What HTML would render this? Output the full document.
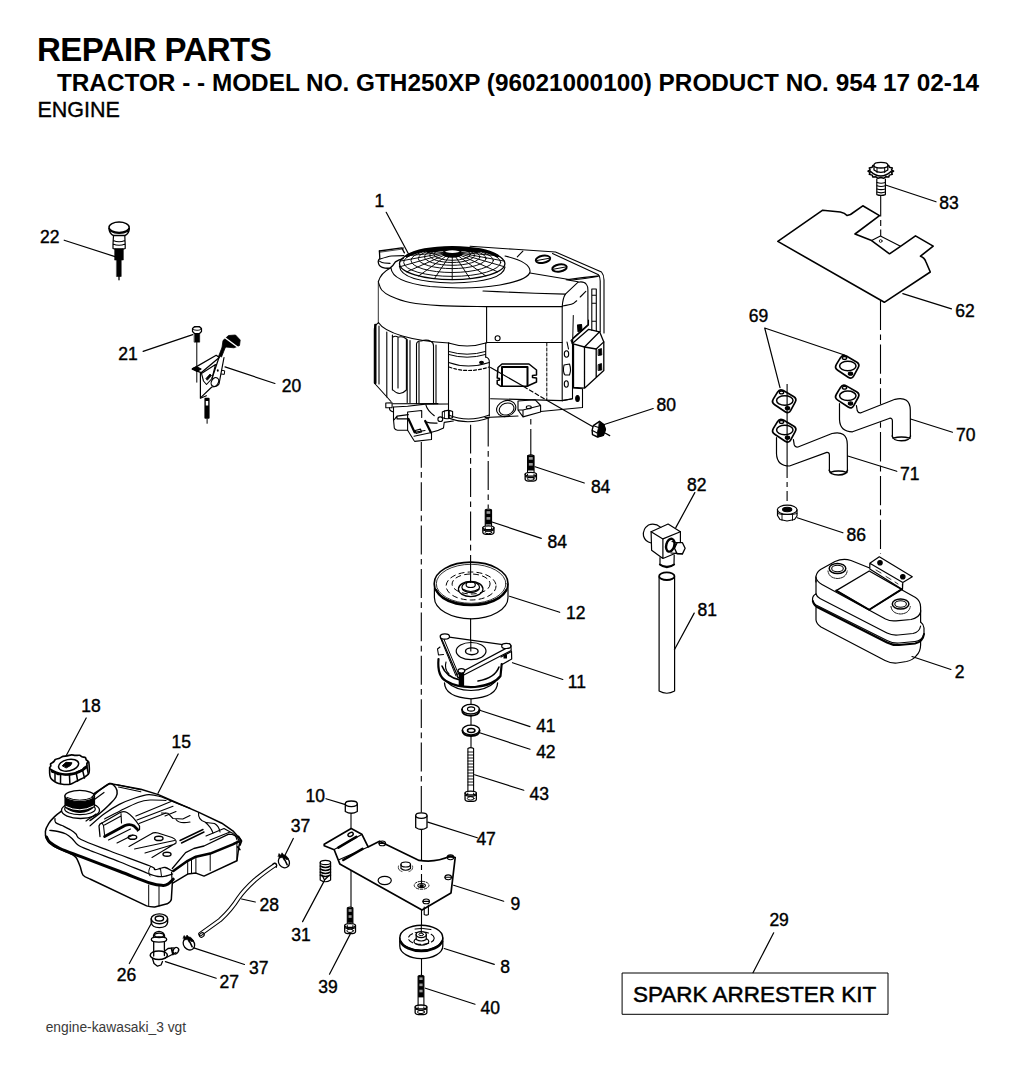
<!DOCTYPE html>
<html><head><meta charset="utf-8">
<style>
html,body{margin:0;padding:0;background:#fff;}
body{width:1024px;height:1069px;overflow:hidden;position:relative;font-family:"Liberation Sans",sans-serif;}
svg{position:absolute;left:0;top:0;}
.t{position:absolute;white-space:nowrap;color:#000;}
</style></head><body>
<svg width="1024" height="1069" viewBox="0 0 1024 1069">
<g font-family="Liberation Sans, sans-serif" fill="#000">
<text x="37.05" y="61" font-size="33" font-weight="bold" letter-spacing="-0.56">REPAIR PARTS</text>
<text x="56.95" y="91.3" font-size="24.33" font-weight="bold">TRACTOR - - MODEL NO. GTH250XP (96021000100) PRODUCT NO. 954 17 02-14</text>
<text x="37.4" y="117.3" font-size="21.53" stroke="#000" stroke-width="0.35">ENGINE</text>
<text x="45.7" y="1031.6" font-size="13.8" fill="#3a3a3a">engine-kawasaki_3 vgt</text>
<text x="632.9" y="1002" font-size="22.5" stroke="#000" stroke-width="0.5">SPARK ARRESTER KIT</text>
</g>
<g font-family="Liberation Sans, sans-serif" font-size="17.5" fill="#000" stroke="#000" stroke-width="0.4">
<text x="374.42" y="207.45">1</text>
<text x="40.02" y="243.15">22</text>
<text x="118.3" y="360.25">21</text>
<text x="281.8" y="391.65">20</text>
<text x="939.2" y="209.45">83</text>
<text x="955.25" y="317.45">62</text>
<text x="748.75" y="322.15">69</text>
<text x="656.6" y="410.85">80</text>
<text x="956.02" y="440.75">70</text>
<text x="900.0" y="479.85">71</text>
<text x="590.88" y="493.45">84</text>
<text x="686.98" y="490.85">82</text>
<text x="547.47" y="548.45">84</text>
<text x="846.45" y="541.45">86</text>
<text x="566.1" y="618.55">12</text>
<text x="697.47" y="616.45">81</text>
<text x="954.72" y="677.65">2</text>
<text x="567.78" y="688.45">11</text>
<text x="81.28" y="712.25">18</text>
<text x="536.15" y="732.15">41</text>
<text x="171.48" y="748.15">15</text>
<text x="536.15" y="757.55">42</text>
<text x="529.58" y="800.25">43</text>
<text x="305.42" y="801.95">10</text>
<text x="290.73" y="832.35">37</text>
<text x="476.4" y="844.75">47</text>
<text x="510.38" y="910.05">9</text>
<text x="259.58" y="910.55">28</text>
<text x="769.4" y="925.55">29</text>
<text x="291.23" y="941.15">31</text>
<text x="249.08" y="974.05">37</text>
<text x="500.18" y="973.35">8</text>
<text x="116.78" y="980.85">26</text>
<text x="219.6" y="987.75">27</text>
<text x="318.18" y="992.65">39</text>
<text x="480.48" y="1013.95">40</text>
</g>
<g fill="none" stroke="#000" stroke-width="1.1" stroke-linejoin="round" stroke-linecap="round">
<path stroke-width="1.2" d="M386.2,212.3L408.8,254.5 M64.2,240.2L115,256.6 M143.1,351.4L192.7,334.6 M274.9,383.5L225,366.9 M936,201.8L886.2,185.2 M951.5,308.9L902.8,293.6 M764.7,328L844.4,355 M764.7,328L780,387.6 M653.2,408.5L603.5,424.7 M952.5,432.2L910.6,419 M896.8,471.3L847.8,456 M584.3,483L535.1,466.7 M694.8,492.6L675.8,527.6 M541.3,538.4L492,522 M842.9,532.8L797.2,517.8 M559.7,612.3L509.5,596.3 M694.2,613.1L674.4,649.7 M950.9,669.5L912,656.5 M562.8,679.5L512.5,662.7 M86.2,718L65.9,756.3 M530,726.6L479.7,710.2 M178.2,754L158,793.3 M530,749.2L479.7,732.8 M523.8,790.2L474.6,774.8 M326,798.7L345.5,804.6 M293.3,838.5L284.6,856 M477.3,837.8L427.8,822.1 M503.7,901.2L453.6,885.3 M255.3,902L241.6,899 M773.7,932.8L753,972.7 M302.6,921.6L324.4,880.6 M244.5,964.5L193.75,947.9 M494.3,964.4L444.2,948.5 M129.3,963.5L151.8,922.5 M216.2,978.2L165.4,961.6 M329.5,974.2L350.1,934.4 M475,1004.2L425.5,988.2"/>
<rect x="622.5" y="973" width="265.5" height="41.3" stroke-width="1"/>

<g stroke-width="1.1" stroke="#000" stroke-linecap="butt">
<path d="M421.3,442 L421.3,812.5" stroke-dasharray="28.9 4.4 5.7 4.4" stroke-dashoffset="3.2"/>
<path d="M470.6,424.7 L470.6,562" stroke-dasharray="28.9 4.4 5.7 4.4"/>
<path d="M470.6,562 L470.6,583 M470.6,618.5 L470.6,652 M471,698.5 L471,704.5 M471,715.5 L471,725.5 M471,736 L471,747"/>
<path d="M488.2,417.7 L488.2,508.5" stroke-dasharray="28.9 4.4 5.7 4.4"/>
<path d="M530.8,417.5 L530.8,455.5" stroke-dasharray="27 4.5 5.6 4.5" stroke-dashoffset="30"/>
<path d="M880.5,300.7 L880.5,404.5" stroke-dasharray="29.3 4.4 5.7 4.4"/>
<path d="M880.5,422.3 L880.5,554" stroke-dasharray="29.3 4.4 5.7 4.4" stroke-dashoffset="34"/>
<path d="M880.7,195.5 L880.7,216.5 M880.7,220 L880.7,226 M880.7,229.5 L880.7,236"/>
<path d="M787.1,384 L787.1,478 M787.1,482 L787.1,487 M787.1,491 L787.1,501"/>
<path d="M351,814 L351,829 M351,870 L351,907"/>
<path d="M421.5,830 L421.5,861 M421.5,865 L421.5,870 M421.5,874 L421.5,884"/>
<path d="M421.5,910 L421.5,925 M421.5,958.6 L421.5,976"/>
</g>

<g id="engine" stroke-width="1.1">
<!-- back top edge -->
<path d="M403,247.5 L403,249 M470,246.3 L515,249.3 L555.5,252 L601.5,272 Q604,275 604,280 L604,333"/>
<path d="M552.5,253.5 L598.5,274.8 Q600.2,277 600.2,281 L600.2,331.7"/>
<!-- tab top-left -->
<path d="M379.4,251 L401.7,247.8 L404.4,252.9" stroke-width="1.3"/>
<path d="M380,252.2 L401.5,249.2" stroke-width="0.7"/>
<path d="M379.4,251 L379.8,258.4 Q378,260 378.25,262 Q378.6,266 382.2,267.3 Q386,268.6 390,268.1 Q393,266 395.4,261.9 Q399,259.6 403.3,258.7" stroke-width="1.3"/>
<path d="M380.2,259.1 Q388,256.3 391.5,256 L404,255.6" stroke-width="1.1"/>
<path d="M379.4,261.1 Q382,262.8 384.5,263 L390,263.4" stroke-width="1.1"/>
<!-- top surface ring ellipse -->
<path d="M391,268 Q392,282 430,286.5 Q470,290 500,285 Q528,280 530,272 Q531,262 505,256"/>
<!-- screen outer and inner -->
<ellipse cx="452.2" cy="263.6" rx="52.7" ry="16.1" stroke-width="1.3"/>
<path d="M399.4,266 Q401,282 452.2,283 Q503,282 505,267" stroke-width="1.2"/>
<!-- screen rings -->
<g stroke-width="0.95">
<ellipse cx="452.2" cy="262.35" rx="48.51" ry="14.05"/>
<ellipse cx="452.2" cy="260.40" rx="41.20" ry="12.10"/>
<ellipse cx="452.2" cy="258.45" rx="33.88" ry="10.15"/>
<ellipse cx="452.2" cy="256.80" rx="27.69" ry="8.50"/>
<ellipse cx="452.2" cy="255.40" rx="22.44" ry="7.10"/>
<ellipse cx="452.2" cy="254.30" rx="18.32" ry="6.00"/>
<path d="M452.3,251.6 L498.38,255.84 M452.3,251.6 L504.25,261.08 M452.3,251.6 L503.97,266.62 M452.3,251.6 L497.56,271.80 M452.3,251.6 L485.79,276.01 M452.3,251.6 L470.05,278.75 M452.3,251.6 L452.20,279.70 M452.3,251.6 L434.35,278.75 M452.3,251.6 L418.61,276.01 M452.3,251.6 L406.84,271.80 M452.3,251.6 L400.43,266.62 M452.3,251.6 L400.15,261.08 M452.3,251.6 L406.02,255.84 "/>
</g>
<path d="M407,256 Q420,248 452.3,247.6 Q485,248 497.5,256" stroke-width="3.2"/>
<path d="M428,251 Q440,249 452.3,249 Q465,249 477,251" stroke-width="4"/>
<ellipse cx="452.3" cy="254.5" rx="10" ry="3.2" fill="#000" stroke="none"/>
<ellipse cx="452.3" cy="251.6" rx="8.4" ry="2.1" fill="#fff" stroke="#000" stroke-width="1.6"/>
<!-- bosses -->
<ellipse cx="543" cy="259.3" rx="7.3" ry="3.6" transform="rotate(-10 543 259.3)" stroke-width="2"/>
<path d="M537,260.5 L549,258.3" stroke-width="1"/>
<ellipse cx="559.5" cy="268" rx="7.3" ry="3.6" transform="rotate(-10 559.5 268)" stroke-width="2"/>
<path d="M553.5,269.2 L565.5,267" stroke-width="1"/>
<path d="M517.3,256.8 L522.9,251.1"/>
<!-- top surface right boundary -->
<path d="M530,273 L572,280 Q585,278.5 597.5,276.5"/>
<!-- housing left side + front -->
<path d="M390,268.3 Q381,273 378.4,281.5"/>
<path d="M378.3,281.5 L378.3,323" stroke-width="0.8"/>
<path d="M378.50,282.50 C379.03,283.75 379.73,287.77 381.70,290.00 C383.67,292.23 385.58,293.82 390.30,295.90 C395.02,297.98 401.72,300.88 410.00,302.50 C418.28,304.12 427.17,304.92 440.00,305.60 C452.83,306.28 479.17,306.43 487.00,306.60  L562.2,306.6"/>
<path d="M483,291 L497,291.6 L535,293.3 L565.4,294.1"/>
<path d="M562.2,306.6 Q562.8,298 565.4,294.1 L578.1,282.2 Q584,281 586.5,284.5 Q588,286.5 587.9,290 L587.9,324.6 L573.2,338"/>
<path d="M562.5,306 Q570,305 573.2,303.6 L576.7,300.8 M580.2,297 L585.8,291.3" stroke-width="1.1"/>
<path d="M562.2,306.6 L562.2,400.6"/>
<path d="M566.1,279.7 L578.1,281.8 M566.1,279.7 Q582,277.5 599.1,275.9"/>
<path d="M573.3,315.5 L572.6,345" stroke-width="1"/>
<path d="M577.5,325 L581.5,324.5 L582,330.5 L578,331.5 Z" fill="#000"/>
<!-- fins on right side -->
<path d="M591.8,289 L591.8,330.3 M596.3,289 L596.3,331 M591.8,289 L596.3,289 M591.8,295.2 L596.3,295.2 M591.8,303.2 L596.3,303.2 M591.8,321.2 L596.3,321.2" stroke-width="1.1"/>
<!-- front panel -->
<path d="M486.6,306.6 L486.6,343 M486.6,342.5 L562.2,342.5"/>
<circle cx="497.6" cy="338.3" r="2.5"/>
<path d="M546.8,343 L546.8,400" stroke-dasharray="3 2" stroke-width="1"/>
<!-- rectifier -->
<path d="M498,367.5 L502,364 L529,364 L536.5,370 L536.5,375 L532.5,375.5 L532.5,377.5 L536.5,378 L536.5,382 L527,386.2 L500.5,386.2 L497.2,384 L497.2,380.5 L499.5,380 L499.5,378.5 L497.2,378 Z" stroke-width="1.5"/>
<path d="M502,367 L527.5,367 L527.5,386 M502,367 L502,386" stroke-width="2"/>
<!-- right small panel holes -->
<path d="M572.5,340 L572.5,398.7 L562.2,400.6"/>
<ellipse cx="566.5" cy="354" rx="2.2" ry="3.2"/>
<path d="M564,365 Q562.5,372 565,375 L569.5,375 Q571.5,370 569.5,364 Z"/>
<ellipse cx="566.3" cy="384" rx="2" ry="3.2"/>
<path d="M567,342 L568.5,349"/>
<!-- regulator box -->
<path d="M572.3,343.6 L588.7,329.3 L599.6,331.8 L584.5,347 Z" stroke-width="1.3"/>
<path d="M599.6,331.8 L603.8,341.9 L596.2,349 L584.5,347" stroke-width="1.3"/>
<path d="M573.5,344.4 L573.5,387.3 L584.5,388.2 L603.8,370.5 L603.8,341.9 M584.5,347 L584.5,388.2 M596.2,349 L596.2,377.5" stroke-width="1.3"/>
<path d="M598.5,349.5 L601.5,348.5 L601.8,355 L598.5,355.5 Z M598.5,364.5 L601.5,363.5 L601.8,370 L598.5,370.5 Z" fill="#000" stroke-width="0.8"/>
<path d="M571,340.5 L588.5,325 L588.5,320 M572.3,343.6 L571,340.5" stroke-width="1.1"/>
<!-- lower right bracket -->
<path d="M572.5,388 L582.5,388.7 L582.5,407.5 L540.6,411.5 M518,416 L485,417.5"/>
<ellipse cx="577.5" cy="398.5" rx="1.8" ry="3" fill="#000"/>
<!-- bottom edge of front panel -->
<path d="M490.6,398.7 L562.2,400.6 L572.5,398.7"/>
<!-- oil cap -->
<ellipse cx="506.2" cy="408.5" rx="9.8" ry="7.8" transform="rotate(-20 506.2 408.5)"/>
<ellipse cx="506.6" cy="409" rx="7.5" ry="5.8" transform="rotate(-20 506.6 409)"/>
<!-- mount foot right -->
<path d="M518,401 L535,399.7 L540.6,405.5 L540.6,412 L523,416.9 L518,410 Z M523,416.9 L523,410 L540.6,405.5 M518,410 L523,410"/>
<ellipse cx="528.8" cy="407.3" rx="2.5" ry="1.5"/>
<!-- PTO cylinder -->
<path d="M448.5,343 Q467,349 485.7,343"/>
<path d="M448.5,343 L448.5,418 M485.7,343 L485.7,357"/>
<path d="M448.7,351.5 Q467,357 485.5,351.5 M448.7,354.5 Q467,360 485.5,354.5" stroke-width="1"/>
<path d="M485.5,357 Q489.5,358 489.3,362 L489.3,416"/>
<path d="M448.7,362.5 Q468,369.5 489.2,362.5"/>
<path d="M449,367 Q468,374 489,367" stroke-width="1.2" stroke-dasharray="3 2"/>
<path d="M448.5,415 Q468,423 489.3,415 M449,418.3 Q468,425.5 489.3,417.8"/>
<ellipse cx="481.5" cy="362.4" rx="1.9" ry="1.1" fill="#000"/>
<!-- left fins & cylinder -->
<path d="M378.4,323 Q374.5,325 374.3,330 L374.3,383 L391,401.5"/>
<path d="M375.3,325 L375.3,383" stroke-width="2.4"/>
<path d="M379,326 L379,384 M386.8,332 L386.8,397 M392.4,335 L392.4,390"/>
<path d="M393,337 Q395,335.5 398,337 L398,388 M393,390 Q399.5,397 406.4,390 L406.4,339 Q403,336 399,337"/>
<path d="M407.2,339.5 L407.2,402.5 M410,340.5 L410,402.5"/>
<path d="M416.5,403.6 L416.5,344 Q417,340.5 421,341 Q427,339 431,341.5 Q433.5,342.5 433.5,346 L433.5,403.6"/>
<path d="M419,342 L419,403 M436,345 L436,403"/>
<!-- base left -->
<path d="M378.4,322.5 C385,333 412,341 449,343"/>
<path d="M392.8,403.8 L437.9,403.6"/>
<path d="M393.5,407 L407.6,406.3 L425.2,404.1 L448.5,404"/>
<path d="M385.8,403 L392.1,402.7 L392.1,407.7 L385.8,407.7 Z"/>
<path d="M389.5,407.7 Q389,411 393.5,412"/>
<path d="M393.5,407 L393.5,419.6 L394.3,428 Q395,430 397.5,430.2 L407.6,430.2 L414,440.5 L414.8,441.4 L431.5,439.5 L431.5,432.3 Q438,431 443.5,428 L444.2,422.4 L453.3,421"/>
<path d="M394.3,419.6 L397,416.1 L408.3,414.6 M397,416.1 L397,418.9 L408.3,418.9"/>
<path d="M407.6,412 L421.7,410.5 L421.7,417.5 M407.6,412 L407.6,430.2"/>
<path d="M408.5,419 L414.6,432.3 M425.2,421 L430.8,432.3" stroke-width="2.2"/>
<path d="M414,436.2 L431.5,432.5 M414.6,432.3 L425,430.5"/>
<path d="M415.2,430.5 L420.5,429.2 L421.5,432 L416,433.3 Z" stroke-width="1.2"/>
<path d="M425.9,404.8 Q427,410 434.3,415.7 M425.2,421.7 Q431,423.5 437.1,423.1"/>
<path d="M442.3,412 L442.3,417.5 Q447,420 452.6,417.5 L452.6,411.5 M442.3,412 Q447,409 452.6,411.5"/>
<ellipse cx="440.3" cy="419.2" rx="2.4" ry="2.3"/>
<path d="M444.5,411 L444.5,418.5 M449.5,410.5 L449.5,418.5" stroke-width="0.8"/>
</g>

<g id="p22">
<ellipse cx="119.1" cy="227.3" rx="10.1" ry="5.2" stroke-width="1.5"/>
<path d="M109,228.5 Q109.5,234 113.5,235.5 L124.8,235.5 Q129,234 129.3,228.5" stroke-width="1.5"/>
<path d="M110,231 Q119,236 128.5,231" stroke-width="1.2"/>
<path d="M113.5,235.5 L113.2,240.5 Q119,243 125,240.5 L124.8,235.5 M113.2,240.5 L113,244 Q119,246.5 125.2,244 L125,240.5 M113,244 L113,248.5 Q119,251 125.2,248.5 L125.2,244" stroke-width="1.2"/>
<rect x="114.9" y="248.5" width="8.4" height="11.5" fill="#000" stroke-width="0.6"/>
<rect x="116.8" y="259.5" width="4.4" height="17" fill="#000" stroke-width="0.6"/>
<path d="M119,276.5 L119,279.8" stroke-width="1.3"/>
</g>
<g id="p21">
<path d="M192.5,328.5 L194.5,326.6 L199.5,326.6 L201.5,328.5 L201.5,331.5 L199.5,333.5 L194.5,333.5 L192.5,331.5 Z" stroke-width="1.2"/>
<ellipse cx="197" cy="328.5" rx="4.3" ry="1.8" stroke-width="0.9"/>
<rect x="194.4" y="333.5" width="5.3" height="8.7" fill="#000" stroke-width="0.5"/>
<path d="M196.8,342 L196.8,382.2" stroke-width="1"/>
</g>
<g id="p20" stroke-width="1.2">
<path d="M192.2,369.1 L216.2,355.3 L219.3,357.6 L201.1,372.7 Z" stroke-width="1.3"/>
<path d="M192.5,368.5 L196.5,366.8 L201,369 L197,371.5 Z" fill="#000"/>
<path d="M200.4,372.7 L200.4,398.2 L206.4,395.8"/>
<path d="M219.3,356.5 L212,378.5 M224,357.5 L219,384 Q217,387 211.8,387 L200.7,397.6"/>
<path d="M201.5,373.5 L215.5,364.5 L212,378.5 L206.5,384.5 L203.5,381 Z" stroke-width="1.1"/>
<path d="M206,378.5 L210,374 L211.5,375.5 L207.5,380 Z" fill="#000" stroke-width="0.8"/>
<ellipse cx="214.9" cy="382" rx="3.4" ry="4.7" transform="rotate(30 214.9 382)"/>
<path d="M221.6,370.3 L224.7,370.8 L224.3,374.4 L221.2,374" stroke-width="1"/>
<path d="M218.5,356.5 L222,347.5 L225.5,347 L221.5,357" fill="#000" stroke-width="0.8"/>
<path d="M222,347.5 L223,340.5 L228.5,335.5 L235.5,335 L240.2,340 L239.5,345.5 L234,347.8 L225.5,347 Z" fill="#000" stroke-width="0.8"/>
<path d="M224,337 L237.5,347" stroke="#fff" stroke-width="1.5"/>
<ellipse cx="217.8" cy="370.5" rx="0.9" ry="1.3" fill="#000" stroke="none"/>
<rect x="204.4" y="397.8" width="5.2" height="21" rx="1" fill="#000" stroke="none"/>
<rect x="205.8" y="401" width="2.4" height="4.5" fill="#fff" stroke="none"/>
<path d="M207.1,419 L207.1,423.3" stroke-width="1"/>
</g>

<g id="p83">
<path d="M893.60,171.20 L891.53,172.60 L892.33,174.37 L889.41,175.11 L888.78,176.91 L885.58,176.86 L883.65,178.32 L880.80,177.48 L877.95,178.32 L876.02,176.86 L872.82,176.91 L872.19,175.11 L869.27,174.37 L870.07,172.60 L868.00,171.20 L870.07,169.80 L869.27,168.03 L872.19,167.29 L872.82,165.49 L876.02,165.54 L877.95,164.08 L880.80,164.92 L883.65,164.08 L885.58,165.54 L888.78,165.49 L889.41,167.29 L892.33,168.03 L891.53,169.80 L893.60,171.20 Z" stroke-width="1.5" fill="#fff"/>
<path d="M870,171 Q880.8,181 891.6,171" stroke-width="1.6"/>
<path d="M874,165.5 L874,170 Q880.8,174.8 887.8,170 L887.8,165.5" stroke-width="1.3" fill="#fff"/>
<ellipse cx="880.9" cy="165.2" rx="7" ry="2.8" stroke-width="1.3" fill="#fff"/>
<path d="M877,167.8 L877,172.5 M884.7,167.8 L884.7,172.5" stroke-width="1"/>
<path d="M876.8,179 L876.8,194.6 Q881,196.3 885.4,194.6 L885.4,179" stroke-width="1.2"/>
<path d="M877,182.5 Q881,184 885.3,182.5 M877,185.7 Q881,187.2 885.3,185.7 M877,188.9 Q881,190.4 885.3,188.9 M877,192.1 Q881,193.6 885.3,192.1" stroke-width="1.1"/>
</g>
<g id="p62" stroke-width="1.6">
<path d="M777.8,241.4 L822.7,210.2 L840.3,212 Q845,213 847,215.5 L850.5,214.5 L862.8,205.8 L879.5,215.6 L855,234 L871.6,240.6 L889.5,253.8 L900.5,246.3 L915.5,235.9 L933.2,246.1 L920.5,256.2 Q924.5,257.5 926,262 L930.3,272 L884.3,302.3 Z"/>
<path d="M871.6,240.6 L880.4,236 L900.5,246.3" stroke-width="1.1"/>
<circle cx="880.7" cy="241" r="1.4" stroke-width="0.8"/>
</g>
<g id="p86">
<path d="M777.5,510 L777.5,515.5 L780,519.5 L787,521 L794.5,519.5 L797,516 L797,510" stroke-width="1.2"/>
<ellipse cx="787.2" cy="509.8" rx="9.8" ry="4.6" stroke-width="1.2"/>
<ellipse cx="787.2" cy="509.5" rx="4.6" ry="2.2" fill="#000"/>
<path d="M782,514.5 L782,520.3 M792.5,514.5 L792.5,520.3 M777.5,513.5 L782,514.5 L792.5,514.5 L797,513.5" stroke-width="0.9"/>
</g>

<g id="gaskets">
<path d="M846.35,356.08 L856.55,361.92 Q860.20,364.00 858.18,367.68 L853.72,375.82 Q851.70,379.50 848.19,377.19 L837.71,370.31 Q834.20,368.00 836.38,364.41 L840.52,357.59 Q842.70,354.00 846.35,356.08 Z" stroke-width="1.7"/>
<ellipse cx="847.8" cy="366" rx="8.2" ry="4.7" stroke-width="1.5"/>
<ellipse cx="844.5" cy="357.9" rx="2.2" ry="1.4" stroke-width="1.3"/>
<ellipse cx="850.5" cy="373.7" rx="2.2" ry="1.6" fill="#000"/>
<path d="M846.35,385.88 L856.55,391.72 Q860.20,393.80 858.18,397.48 L853.72,405.62 Q851.70,409.30 848.19,406.99 L837.71,400.11 Q834.20,397.80 836.38,394.21 L840.52,387.39 Q842.70,383.80 846.35,385.88 Z" stroke-width="1.7"/>
<ellipse cx="847.8" cy="395.8" rx="8.2" ry="4.7" stroke-width="1.5"/>
<ellipse cx="844.5" cy="387.7" rx="2.2" ry="1.4" stroke-width="1.3"/>
<ellipse cx="850.5" cy="403.5" rx="2.2" ry="1.6" fill="#000"/>
<path d="M783.35,390.58 L793.55,396.42 Q797.20,398.50 795.18,402.18 L790.72,410.32 Q788.70,414.00 785.19,411.69 L774.71,404.81 Q771.20,402.50 773.38,398.91 L777.52,392.09 Q779.70,388.50 783.35,390.58 Z" stroke-width="1.7"/>
<ellipse cx="784.8" cy="400.5" rx="8.2" ry="4.7" stroke-width="1.5"/>
<ellipse cx="781.5" cy="392.4" rx="2.2" ry="1.4" stroke-width="1.3"/>
<ellipse cx="787.5" cy="408.2" rx="2.2" ry="1.6" fill="#000"/>
<path d="M783.35,420.08 L793.55,425.92 Q797.20,428.00 795.18,431.68 L790.72,439.82 Q788.70,443.50 785.19,441.19 L774.71,434.31 Q771.20,432.00 773.38,428.41 L777.52,421.59 Q779.70,418.00 783.35,420.08 Z" stroke-width="1.7"/>
<ellipse cx="784.8" cy="430" rx="8.2" ry="4.7" stroke-width="1.5"/>
<ellipse cx="781.5" cy="421.9" rx="2.2" ry="1.4" stroke-width="1.3"/>
<ellipse cx="787.5" cy="437.7" rx="2.2" ry="1.6" fill="#000"/>
</g>
<g id="pipes">
<path d="M839.50,403.50 L839.50,419.50 Q840.00,431.80 852.50,431.80 L889.80,418.20 Q892.40,418.00 892.40,421.00 L892.40,436.20" stroke-width="1.2"/>
<path d="M856.40,405.50 L857.20,410.50 Q858.30,413.50 861.00,412.80 L895.00,399.30 Q910.00,396.00 910.30,410.00 L910.40,436.20" stroke-width="1.2"/>
<path d="M892.20,436.00 Q893.00,440.80 901.30,440.80 Q910.00,440.80 910.50,436.00 M893.00,438.20 Q901.30,435.60 910.00,438.20" stroke-width="1.5"/>
<path d="M776.50,437.70 L776.50,453.70 Q777.00,466.00 789.50,466.00 L826.80,452.40 Q829.40,452.20 829.40,455.20 L829.40,470.40" stroke-width="1.2"/>
<path d="M793.40,439.70 L794.20,444.70 Q795.30,447.70 798.00,447.00 L832.00,433.50 Q847.00,430.20 847.30,444.20 L847.40,470.40" stroke-width="1.2"/>
<path d="M829.20,470.20 Q830.00,475.00 838.30,475.00 Q847.00,475.00 847.50,470.20 M830.00,472.40 Q838.30,469.80 847.00,472.40" stroke-width="1.5"/>
</g>

<g id="p2" stroke-width="1.2">
<!-- top face -->
<path d="M869,567.8 L851,560.5 Q843,558 835,561.5 L820.5,569.5 Q815.5,573 815.8,579 L816,582"/>
<path d="M902.5,590.3 L915.5,597.5 Q920.6,601 920.6,607 L920.6,612 Q919,618 911,619.5 L896,620.8 Q890.5,621.5 885.5,619 L822,584.5 Q816.5,581.5 815.9,577"/>
<!-- sides -->
<path d="M816,580 L816,594"/>
<path d="M920.6,610 L920.6,622"/>
<!-- upper band -->
<path d="M816,594 Q812.5,595.5 812.5,599.5 Q813,604 818,606 L887,640.5 Q893,643.5 899,643 L915,641.5 Q922,641 924,634 L924,628 Q923.5,624 920.6,622"/>
<path d="M812.8,601 Q814,606 819,608 L887,642.5 Q893,645.5 899,645 L915,643.5 Q923,642 924,634" stroke-width="2"/>
<path d="M816,594 Q817,597 820,598.5 L887,633 Q892,635.5 898,635 L913,633.5 Q919.5,632 920.6,626"/>
<!-- lower body -->
<path d="M816,607.5 L816,620 Q816.5,624 821,627 L885,660.5 Q891,663.5 897,663 L906.5,661.5 Q913,660 916,656 Q920.5,652 920.6,645 L920.6,640"/>
<!-- plate -->
<path d="M836.2,590.6 L869.2,571 L901.6,589.4 L869.2,609.7 Z" stroke-width="1.3"/>
<path d="M836.2,590.6 L869.2,609.7 L901.6,589.4" stroke-width="1.9"/>
<!-- bracket -->
<path d="M869.8,563.3 L879.3,556.8 L912.3,576.7 L902.8,582.5 Z M869.8,563.3 L869.8,569 L902.5,589.4 L902.8,582.5 M902.5,589.4 L902.5,584"/>
<circle cx="880" cy="562.8" r="2.2" fill="#000"/>
<circle cx="902.8" cy="576.7" r="2.2" fill="#000"/>
<path d="M876,570 L881,573 M886,576.5 L891,579.5 M895,582 L898,584" stroke-width="0.8"/>
<!-- outlets -->
<ellipse cx="837.5" cy="568.5" rx="8.3" ry="5" stroke-width="1.5"/>
<ellipse cx="837.5" cy="568.5" rx="5.8" ry="3.2" stroke-width="1.1"/>
<path d="M828,571 Q829,578 837.5,578.5 Q846,578 847.2,571" stroke-width="1" stroke-dasharray="1 1"/>
<ellipse cx="900.6" cy="604" rx="8.3" ry="5" stroke-width="1.5"/>
<ellipse cx="900.6" cy="604" rx="5.8" ry="3.2" stroke-width="1.1"/>
<path d="M891,606.5 Q892,613.5 900.6,614 Q909,613.5 910.3,606.5" stroke-width="1" stroke-dasharray="1 1"/>
</g>

<g id="p82" stroke-width="1.2">
<path d="M651.1,531.7 L668.1,524 L680.4,531.7 L662.9,538.9 Z"/>
<path d="M651.1,531.7 L651.6,550.2 L662.9,558.5 L680.4,551.3 L680.4,531.7 M662.9,538.9 L662.9,558.5"/>
<path d="M660.8,527.4 Q655,522.5 648.5,525 Q642.5,529 643.5,536 Q645,541.5 651.2,543"/>
<ellipse cx="670.3" cy="545.2" rx="4" ry="6.6" transform="rotate(15 670.3 545.2)" stroke-width="2.4"/>
<path d="M677.14,542.72 L682.46,542.72 L685.12,548.30 L682.46,553.88 L677.14,553.88 L674.48,548.30 Z" stroke-width="1.3" fill="#fff"/>
<path d="M672,541.5 L677.14,542.72 M671,553 L682.46,553.88 M675.3,544 L674.48,548.30" stroke-width="1.1"/>
<path d="M660,557.5 L660,564.5 Q666.8,568.3 674,564.5 L674.2,555" />
<path d="M659.8,564.5 Q666.8,570 674.2,564.5" stroke-width="1.8"/>
</g>
<g id="p81" stroke-width="1.2">
<ellipse cx="666.8" cy="576.2" rx="7.7" ry="3.8" stroke-width="1.8"/>
<path d="M659.1,577 L659.1,691 Q666.8,695.5 674.6,691 L674.6,577"/>
</g>

<g id="bolt84a">
<path d="M527.55,473.30 L527.55,455.80 Q530.80,454.00 534.05,455.80 L534.05,473.30" stroke-width="1.1"/>
<rect x="527.55" y="455.40" width="6.50" height="15.10" fill="#000" stroke="none"/>
<rect x="528.85" y="457.10" width="3.90" height="2.60" fill="#999" stroke="none"/>
<rect x="528.85" y="463.05" width="3.90" height="2.60" fill="#999" stroke="none"/>
<path d="M525.15,474.20 L525.15,479.20 Q525.15,481.10 530.80,481.10 Q536.45,481.10 536.45,479.20 L536.45,474.20" stroke-width="1.3" fill="#fff"/>
<ellipse cx="530.80" cy="474.20" rx="5.65" ry="1.90" stroke-width="1.3" fill="#fff"/>
<path d="M527.55,474.20 L527.55,475.40 M534.05,474.20 L534.05,475.40" stroke-width="1"/>
<path d="M525.45,476.40 Q530.80,478.80 536.15,476.40" stroke-width="1.1"/>
<ellipse cx="530.80" cy="478.85" rx="3.39" ry="1.50" stroke-width="1" />
</g>
<g id="bolt84b">
<path d="M485.25,526.80 L485.25,509.90 Q488.40,508.10 491.55,509.90 L491.55,526.80" stroke-width="1.1"/>
<rect x="485.25" y="509.50" width="6.30" height="15.00" fill="#000" stroke="none"/>
<rect x="486.55" y="511.20" width="3.70" height="2.60" fill="#999" stroke="none"/>
<rect x="486.55" y="517.10" width="3.70" height="2.60" fill="#999" stroke="none"/>
<path d="M482.85,527.70 L482.85,532.50 Q482.85,534.40 488.40,534.40 Q493.95,534.40 493.95,532.50 L493.95,527.70" stroke-width="1.3" fill="#fff"/>
<ellipse cx="488.40" cy="527.70" rx="5.55" ry="1.90" stroke-width="1.3" fill="#fff"/>
<path d="M485.25,527.70 L485.25,528.90 M491.55,527.70 L491.55,528.90" stroke-width="1"/>
<path d="M483.15,529.90 Q488.40,532.30 493.65,529.90" stroke-width="1.1"/>
<ellipse cx="488.40" cy="532.25" rx="3.33" ry="1.46" stroke-width="1" />
</g>
<g id="p12">
<ellipse cx="471.1" cy="583.4" rx="36.9" ry="21.3" stroke-width="1.6"/>
<path d="M436,590 Q441,600 456,603.5 Q471,606.5 486,603.5 Q501,600 506.5,590" stroke-width="2.4"/>
<path d="M434.4,584 L434.4,597.5 A36.8,21.3 0 0 0 508,597.5 L508,584" stroke-width="1.2"/>
<ellipse cx="471.1" cy="583.8" rx="34.8" ry="19.5" stroke-width="0.8"/>
<g stroke-width="1" stroke-dasharray="5 4">
<ellipse cx="471.1" cy="586" rx="25" ry="14"/>
<ellipse cx="471.1" cy="584" rx="19" ry="10"/>
</g>
<ellipse cx="470.7" cy="589" rx="12.3" ry="7.6" stroke-width="1.2"/>
<ellipse cx="470.7" cy="587.2" rx="8.8" ry="5.4" stroke-width="1.2"/>
<path d="M462.5,589 Q470.7,594 479,589" stroke-width="1.2"/>
<ellipse cx="470.7" cy="584.7" rx="4.6" ry="2.8" stroke-width="1.2"/>
</g>
<g id="p11">
<!-- lower pulley -->
<path d="M444.5,683 Q445,697 471,698.8 Q497,697 497.6,683" stroke-width="1.3"/>
<path d="M447,682 Q455,690 471,690.5 Q487,690 495,682" stroke-width="1.1"/>
<!-- drum -->
<path d="M438.5,659 Q437,676 446,681 Q458,688 475,687 Q494,685 500.5,676 L501.7,664" stroke-width="2.2"/>
<path d="M442,666 Q446,677 460,680 M478,681 Q495,678 499,667" stroke-width="1.6"/>
<path d="M446,662 Q444,669 449,674" stroke-width="1.1"/>
<!-- triangle plate -->
<path d="M440.3,635.9 L510.9,645.8 L456.9,674.5 Z" fill="#fff" stroke-width="1.3"/>
<path d="M440.3,637.5 L456,676 M443,637 L458.5,674" stroke-width="1"/>
<path d="M510.9,645.8 L511.2,650.5 L458,678 L456.9,674.5" stroke-width="1.2"/>
<ellipse cx="444.9" cy="636.5" rx="4.6" ry="2.6" fill="#fff" stroke-width="1.2"/>
<ellipse cx="506.3" cy="645.9" rx="4.6" ry="2.6" fill="#fff" stroke-width="1.2"/>
<rect x="458.7" y="670.8" width="5.4" height="15.5" fill="#000" stroke="none"/>
<ellipse cx="461.4" cy="670.8" rx="3.4" ry="2.2" fill="#fff" stroke-width="1.2"/>
<ellipse cx="471.1" cy="651.1" rx="14.9" ry="8.6" stroke-width="1.2"/>
<ellipse cx="471.8" cy="651.3" rx="6.3" ry="3.4" stroke-width="1.4"/>
<!-- right bracket & left tab -->
<path d="M501,657 L511.5,651.5 L511.7,659 L502,664.5" stroke-width="1.2"/>
<rect x="503.5" y="654.5" width="3.5" height="4" fill="#000" stroke="none"/>
<path d="M440,647 L437.5,649 L438.5,655 L443.5,654.5" stroke-width="1.1"/>
</g>
<g id="p41">
<path d="M462,709.5 Q462,715.5 470.7,715.8 Q479.5,715.5 479.5,709.5" stroke-width="1.8"/>
<ellipse cx="470.7" cy="709.2" rx="8.7" ry="4.8" stroke-width="1.3"/>
<ellipse cx="471.1" cy="709" rx="3.6" ry="2.1" stroke-width="1.2"/>
</g>
<g id="p42">
<path d="M462.4,730.5 Q462.5,736 471,736 Q479.5,736 479.6,730.5" stroke-width="1.8"/>
<ellipse cx="471" cy="730" rx="8.6" ry="4.8" stroke-width="1.3"/>
<ellipse cx="471.2" cy="730.5" rx="3.7" ry="2" stroke-width="1.6"/>
</g>
<g id="p43" stroke-width="1.1">
<path d="M467.9,748.5 L467.9,792.5 M473.6,748.5 L473.6,792.5 M467.9,748.5 Q470.7,746.8 473.6,748.5"/>
<path d="M468,752 L473.5,752 M468,755 L473.5,755 M468,758 L473.5,758 M468,761 L473.5,761 M468,764 L473.5,764 M468,767 L473.5,767 M468,770 L473.5,770 M468,773 L473.5,773 M468,776 L473.5,776 M468,779 L473.5,779 M468,782 L473.5,782 M468,785 L473.5,785" stroke-width="0.9"/>

<path d="M465.05,793.10 L465.05,799.40 Q465.05,801.30 470.70,801.30 Q476.35,801.30 476.35,799.40 L476.35,793.10" stroke-width="1.3" fill="#fff"/>
<ellipse cx="470.70" cy="793.10" rx="5.65" ry="1.90" stroke-width="1.3" fill="#fff"/>
<path d="M467.75,793.10 L467.75,794.30 M473.65,793.10 L473.65,794.30" stroke-width="1"/>
<path d="M465.35,795.30 Q470.70,797.70 476.05,795.30" stroke-width="1.1"/>
<ellipse cx="470.70" cy="798.40" rx="3.39" ry="1.72" stroke-width="1" />
</g>

<g id="p18">
<path d="M49.60,769.50 C49.63,770.42 49.57,773.50 49.80,775.00 C50.03,776.50 50.22,777.42 51.00,778.50 C51.78,779.58 53.23,780.65 54.50,781.50 C55.77,782.35 57.02,783.10 58.60,783.60 C60.18,784.10 62.03,784.40 64.00,784.50 C65.97,784.60 68.32,784.75 70.40,784.20 C72.48,783.65 74.90,781.98 76.50,781.20 C78.10,780.42 78.58,780.23 80.00,779.50 C81.42,778.77 83.53,777.80 85.00,776.80 C86.47,775.80 88.08,774.97 88.80,773.50 C89.52,772.03 89.30,769.92 89.30,768.00 C89.30,766.08 88.88,763.00 88.80,762.00 " stroke-width="1.6"/>
<path d="M55,772 L55,780.5 M60.6,774 L60.5,783.5 M69.4,774.5 L69.9,784 M76.2,773 L77.7,781 M82.5,770 L84.5,778 M86.8,766 L88.3,774" stroke-width="1.5"/>
<path d="M88.10,761.40 C88.22,762.06 87.04,762.92 86.84,763.66 C86.64,764.40 87.39,765.14 86.91,765.84 C86.43,766.53 84.76,767.13 83.96,767.84 C83.17,768.55 83.12,769.47 82.14,770.07 C81.16,770.67 79.32,770.89 78.08,771.42 C76.85,771.95 76.01,772.88 74.72,773.26 C73.43,773.64 71.80,773.43 70.37,773.69 C68.94,773.94 67.47,774.69 66.13,774.77 C64.79,774.86 63.68,774.27 62.34,774.19 C61.00,774.12 59.19,774.54 58.07,774.31 C56.94,774.09 56.58,773.23 55.59,772.84 C54.60,772.45 52.82,772.46 52.13,771.97 C51.44,771.48 51.90,770.52 51.46,769.90 C51.02,769.27 49.61,768.86 49.50,768.20 C49.38,767.54 50.56,766.68 50.76,765.94 C50.96,765.20 50.21,764.46 50.69,763.76 C51.17,763.07 52.84,762.47 53.64,761.76 C54.43,761.05 54.48,760.13 55.46,759.53 C56.44,758.93 58.28,758.71 59.52,758.18 C60.75,757.65 61.59,756.72 62.88,756.34 C64.17,755.96 65.80,756.17 67.23,755.91 C68.66,755.66 70.13,754.91 71.47,754.83 C72.81,754.74 73.92,755.33 75.26,755.41 C76.60,755.48 78.41,755.06 79.53,755.29 C80.66,755.51 81.02,756.37 82.01,756.76 C83.00,757.15 84.78,757.14 85.47,757.63 C86.16,758.12 85.70,759.08 86.14,759.70 C86.58,760.33 87.99,760.74 88.10,761.40 Z" stroke-width="1.7" fill="#fff"/>
<path d="M52,770.5 Q60,775 70,774.5 Q80,773 86.5,767" stroke-width="2.4"/>
<ellipse cx="68.6" cy="765.2" rx="10.2" ry="5.7" transform="rotate(-12 68.6 765.2)" stroke-width="1.5"/>
<path d="M62.5,765.5 L66,762.3 L72,762.8 L70.5,765.5 L66.5,767.8 Z" fill="#000" stroke-width="1"/>
</g>
<g id="p15">
<path d="M61.50,811.20 C60.35,812.10 56.72,814.57 54.60,816.60 C52.48,818.63 50.33,820.95 48.80,823.40 C47.27,825.85 45.73,828.70 45.40,831.30 C45.07,833.90 45.42,836.55 46.80,839.00 C48.18,841.45 49.83,843.58 53.70,846.00 C57.57,848.42 66.28,851.58 70.00,853.50 C73.72,855.42 74.33,855.42 76.00,857.50 C77.67,859.58 78.83,863.07 80.00,866.00 C81.17,868.93 81.33,872.93 83.00,875.10 C84.67,877.27 88.83,878.35 90.00,879.00  L146.6,905.9 Q150,907 154.8,906.9 L167.2,903.8 Q171,901.5 171.3,899.7 L172.3,883.3 L187.7,874.1 L195.9,873.1 L204,876.1 L236.9,860.8 L238.9,846.4 L240.5,839.6 L233.5,831.4 L221.8,823.2 L198.4,812.1 L175,802 L158.4,794.6 L140.8,789.3 L109.5,783.4 L92,795" stroke-width="1.5"/>
<path d="M46.50,837.00 C47.08,837.92 47.75,840.58 50.00,842.50 C52.25,844.42 54.83,846.13 60.00,848.50 C65.17,850.87 71.00,852.87 81.00,856.70 C91.00,860.53 108.38,867.07 120.00,871.50 C131.62,875.93 143.53,880.98 150.70,883.30 C157.87,885.62 160.12,885.28 163.00,885.40 C165.88,885.52 166.28,885.03 168.00,884.00 C169.72,882.97 172.42,880.00 173.30,879.20 " stroke-width="3"/>
<path d="M49.80,830.30 C51.17,830.50 55.30,830.88 58.00,831.50 C60.70,832.12 63.67,832.83 66.00,834.00 C68.33,835.17 70.00,836.67 72.00,838.50 C74.00,840.33 75.00,843.00 78.00,845.00 C81.00,847.00 83.00,847.67 90.00,850.50 C97.00,853.33 110.33,858.17 120.00,862.00 C129.67,865.83 141.67,871.08 148.00,873.50 C154.33,875.92 155.00,876.08 158.00,876.50 C161.00,876.92 163.57,876.42 166.00,876.00 C168.43,875.58 171.50,874.33 172.60,874.00 " stroke-width="1.3"/>
<path d="M55.00,818.60 C55.10,819.25 54.43,821.35 55.60,822.50 C56.77,823.65 59.47,824.25 62.00,825.50 C64.53,826.75 68.47,828.58 70.80,830.00 C73.13,831.42 74.30,832.42 76.00,834.00 C77.70,835.58 75.33,836.67 81.00,839.50 C86.67,842.33 98.50,846.58 110.00,851.00 C121.50,855.42 142.53,862.92 150.00,866.00 C157.47,869.08 153.13,869.08 154.80,869.50 C156.47,869.92 158.28,868.83 160.00,868.50 C161.72,868.17 163.05,867.08 165.10,867.50 C167.15,867.92 171.10,870.42 172.30,871.00 " stroke-width="1.3"/>
<path d="M150.5,866.5 Q147,872 150,876 M160.5,868.5 L161.5,876.5 M148.7,885 L148.7,905.5 M159,886 L159,906" stroke-width="1"/>
<path d="M171.5,872 L172.3,883.3" stroke-width="1.2"/>
<path d="M172.3,868.5 L185.6,852.6 L193.8,848.5 L204,846 L228.7,834.1 Q236,834 238.9,840" stroke-width="1.3"/>
<path d="M173.3,871 L187.7,860.8 L195.9,856.7 L210.2,853.6 L232.8,844.4 L238.9,841.3" stroke-width="2.6"/>
<path d="M187.7,861 L187.7,874.1 M195.9,857 L195.9,873.1 M210.2,854 L210.2,870.5 M236.9,843 L236.9,860.8 M191.5,859 L191.5,873.5" stroke-width="1"/>
<ellipse cx="80.5" cy="810.3" rx="19" ry="8.2" stroke-width="1.3"/>
<ellipse cx="80" cy="809" rx="15.3" ry="5.6" stroke-width="1.2"/>
<path d="M65,796 L65,807 Q72,812.5 80,812.3 Q89,812 94.5,806 L94.5,796 Q88,801.5 79.7,801.5 Q71,801.5 65,796 Z" fill="#000" stroke-width="1.2"/>
<path d="M66,806.5 Q80,813.5 93.5,806" stroke="#fff" stroke-width="1"/>
<ellipse cx="79.7" cy="796" rx="14.8" ry="5.6" fill="#fff" stroke-width="1.4"/>
<path d="M67,797.5 Q79.7,803 92.5,797.5" stroke-width="1"/>
<path d="M92.00,797.00 C93.33,795.83 97.08,792.20 100.00,790.00 C102.92,787.80 107.25,784.63 109.50,783.80 C111.75,782.97 112.25,783.88 113.50,785.00 C114.75,786.12 116.58,788.50 117.00,790.50 C117.42,792.50 117.33,794.58 116.00,797.00 C114.67,799.42 111.83,802.17 109.00,805.00 C106.17,807.83 102.17,811.42 99.00,814.00 C95.83,816.58 91.50,819.42 90.00,820.50 " stroke-width="1.5"/>
<path d="M93,800.5 L104,792.5 M96,814 L86,821" stroke-width="1.2"/>
<path d="M117.5,784.8 L140.5,789.8 M118.5,787 L140.8,791.8" stroke-width="1.1"/>
<path d="M90.00,825.90 C92.33,823.92 99.12,817.58 104.00,814.00 C108.88,810.42 114.13,807.07 119.30,804.40 C124.47,801.73 130.12,799.63 135.00,798.00 C139.88,796.37 144.43,794.85 148.60,794.60 C152.77,794.35 156.43,795.52 160.00,796.50 C163.57,797.48 165.00,798.53 170.00,800.50 C175.00,802.47 186.67,807.00 190.00,808.30 " stroke-width="1.2"/>
<path d="M104.60,819.00 C107.17,817.67 114.43,813.75 120.00,811.00 C125.57,808.25 133.00,804.33 138.00,802.50 C143.00,800.67 145.33,800.33 150.00,800.00 C154.67,799.67 163.33,800.42 166.00,800.50 " stroke-width="1.1"/>
<path d="M135.9,816.1 L171,801.5 M137,820 L173,806.2 M139,823.5 L166,813 M165,816 L176,811.6" stroke-width="1.1"/>
<path d="M100,836.5 L99,826 Q99.5,823.5 102,823 L120.5,812.3 Q124,811 127,812.5 Q133,816 139.5,826 L139.5,829.5 L137.5,831" stroke-width="1.3"/>
<path d="M102,823 L103.5,825.5 L104.5,834.5 M121,813.5 L121.5,823 M104.5,825 L121,816" stroke-width="1.1"/>
<path d="M104.6,836.6 L125,825.5 Q130,823.5 134,826 L137.5,829.5" stroke-width="2.8"/>
<path d="M108.5,840 L130.5,829 M117,843 L133,835" stroke-width="1.1"/>
<ellipse cx="132.5" cy="837.2" rx="4.2" ry="2.1" stroke-width="1.4"/>
<ellipse cx="158.8" cy="838.4" rx="4.2" ry="2.1" stroke-width="1.4"/>
<ellipse cx="167" cy="854.2" rx="4" ry="2" stroke-width="1.4"/>
<path d="M129,846.5 L151,834 Q154,832 158,833 L172,837.5 Q177,839.5 176,843 L152,857.5 M134.5,849 L174.5,840.5 M145,853 L175,844" stroke-width="1.1"/>
<path d="M161.5,813 L168,813.3 L173,818.5 L182.8,819 L190,815.5 M176,819.5 Q179,824 190,822" stroke-width="1.1"/>
<path d="M198.5,812.5 Q198,820 205,822 Q211,827 213,833 M206,822.5 L214.5,823.5 Q219,826 220,832" stroke-width="1.1"/>
<path d="M180,840.5 L203,829.5 M181.5,843 L204,832" stroke-width="1.4"/>
<path d="M206,836 L224,828.5 L232,833 M210,840 L230,832 Q236,834 237,840" stroke-width="1.1"/>
<path d="M238.5,836.5 L241.5,841 L240,845 M237.6,847 L239.8,849.5" stroke-width="1.8"/>
</g>

<g id="p10" stroke-width="1.3">
<path d="M345.3,804 L345.3,811.5 Q351.2,815 357.3,811.5 L357.3,804"/>
<ellipse cx="351.3" cy="803.8" rx="6" ry="2.8"/>
</g>
<g id="p47" stroke-width="1.3">
<path d="M415.7,816 L415.7,827.5 Q421.3,831.5 427,827.5 L427,816"/>
<ellipse cx="421.35" cy="815.6" rx="5.7" ry="2.7"/>
</g>
<g id="p9" stroke-width="1.3">
<path stroke-width="1.7" d="M324.2,844.3 L351.2,828.5 L361.8,834.2 L368.1,846.9 L379.5,841.2 L419.1,860.4 Q436,863 450.3,856.1 L455.2,857.5 L451,892.9 L422,909.9 L339.8,863.9 L334.2,849.7 L324.2,845.8 Z"/>
<path d="M334.2,849.4 L361.8,834.4 M339.5,859.5 L368.1,846.9" stroke-width="1.1"/>
<path d="M338.3,847.6 L356.4,836.9 M343.3,860 L362.5,848.8" stroke-width="2.5"/>

<ellipse cx="350.6" cy="834.4" rx="2.8" ry="1.8" transform="rotate(-25 350.6 834.4)" stroke-width="1.4"/>
<g stroke-width="1.1">
<ellipse cx="382.3" cy="843.4" rx="3.3" ry="2.4"/><path d="M379,843.4 L385.6,843.4"/>
<ellipse cx="450.5" cy="857.3" rx="3.3" ry="2.4"/><path d="M447.2,857.3 L453.8,857.3"/>
<ellipse cx="448.2" cy="877.3" rx="3.3" ry="2.4"/><path d="M444.9,877.3 L451.5,877.3"/>
<ellipse cx="426.2" cy="901.4" rx="3.3" ry="2.4"/><path d="M422.9,901.4 L429.5,901.4"/>
</g>
<ellipse cx="384.7" cy="880.5" rx="6.6" ry="4.1" stroke-width="1.2"/>
<path d="M401,864.5 L401,868.5 Q405.5,872 410.5,868.5 L410.5,864.5" stroke-width="1.2"/>
<ellipse cx="405.7" cy="864.5" rx="4.8" ry="2.5" stroke-width="1.2"/>
<path d="M398.5,866 Q397.5,870 402,871.5 M409,871.5 Q413.5,870 412.5,866" stroke-width="0.8" stroke-dasharray="1.2 1"/>
<ellipse cx="421.6" cy="885.3" rx="7.4" ry="4" stroke-width="0.9" stroke-dasharray="2.5 1.5"/>
<ellipse cx="421.6" cy="885.6" rx="3.8" ry="2" stroke-width="1.1"/>
<ellipse cx="421.6" cy="885.7" rx="1.6" ry="0.9" fill="#000"/>
<path d="M424.2,907 L424.2,914.5 Q426.3,915.8 428.4,914.5 L428.4,905" stroke-width="1.1"/>
</g>
<g id="p31" stroke-width="1.2">
<path d="M320.2,862.5 L320.2,880 Q325.4,883.5 330.6,880 L330.6,862.5"/>
<ellipse cx="325.4" cy="862.5" rx="5.2" ry="2.2"/>
<path d="M320.3,866 Q325.4,868.8 330.5,866 M320.3,869 Q325.4,871.8 330.5,869 M320.3,872 Q325.4,874.8 330.5,872 M320.3,875 Q325.4,877.8 330.5,875" stroke-width="1.5"/>
<path d="M322,875 L324.5,880 L328,876.5" stroke-width="1.2"/>
</g>
<g id="p39">
<path d="M347.30,924.60 L347.30,907.90 Q350.10,906.10 352.90,907.90 L352.90,924.60" stroke-width="1.1"/>
<rect x="347.30" y="907.50" width="5.60" height="15.30" fill="#000" stroke="none"/>
<rect x="348.60" y="909.20" width="3.00" height="2.60" fill="#999" stroke="none"/>
<rect x="348.60" y="915.25" width="3.00" height="2.60" fill="#999" stroke="none"/>
<path d="M344.70,925.50 L344.70,931.80 Q344.70,933.70 350.10,933.70 Q355.50,933.70 355.50,931.80 L355.50,925.50" stroke-width="1.3" fill="#fff"/>
<ellipse cx="350.10" cy="925.50" rx="5.40" ry="1.90" stroke-width="1.3" fill="#fff"/>
<path d="M347.30,925.50 L347.30,926.70 M352.90,925.50 L352.90,926.70" stroke-width="1"/>
<path d="M345.00,927.70 Q350.10,930.10 355.20,927.70" stroke-width="1.1"/>
<ellipse cx="350.10" cy="930.80" rx="3.24" ry="1.72" stroke-width="1" />
</g>
<g id="p8">
<path d="M399.8,938 L399.8,946 A21.5,12.6 0 0 0 442.8,946 L442.8,938" stroke-width="1.3"/>
<ellipse cx="421.3" cy="937.8" rx="21.5" ry="12.6" stroke-width="1.4"/>
<path d="M400.5,941.5 A21.5,12.6 0 0 0 442.1,941.5" stroke-width="2.6"/>
<ellipse cx="421.3" cy="938.2" rx="12.9" ry="6.2" stroke-width="1.1" stroke-dasharray="5 3"/>
<path d="M415,929 Q421.3,927.5 431,929.5" stroke-width="1"/>
<ellipse cx="421.4" cy="941.4" rx="7.4" ry="3.8" stroke-width="1.2"/>
<path d="M416.1,934.6 L416.3,939.5 Q421.2,942.5 426.2,939.5 L426.3,934.6" stroke-width="1.2" fill="#fff"/>
<ellipse cx="421.2" cy="934.6" rx="5.1" ry="3" stroke-width="1.3" fill="#fff"/>
<ellipse cx="421.2" cy="934.4" rx="2.3" ry="1.3" stroke-width="1"/>
</g>
<g id="p40">
<path d="M418.10,1006.00 L418.10,976.10 Q421.00,974.30 423.90,976.10 L423.90,1006.00" stroke-width="1.1"/>
<rect x="418.10" y="975.70" width="5.80" height="21.70" fill="#000" stroke="none"/>
<rect x="419.40" y="977.40" width="3.20" height="2.60" fill="#999" stroke="none"/>
<rect x="419.40" y="983.57" width="3.20" height="2.60" fill="#999" stroke="none"/>
<rect x="419.40" y="989.73" width="3.20" height="2.60" fill="#999" stroke="none"/>
<path d="M415.15,1006.90 L415.15,1012.80 Q415.15,1014.70 421.00,1014.70 Q426.85,1014.70 426.85,1012.80 L426.85,1006.90" stroke-width="1.3" fill="#fff"/>
<ellipse cx="421.00" cy="1006.90" rx="5.85" ry="1.90" stroke-width="1.3" fill="#fff"/>
<path d="M418.10,1006.90 L418.10,1008.10 M423.90,1006.90 L423.90,1008.10" stroke-width="1"/>
<path d="M415.45,1009.10 Q421.00,1011.50 426.55,1009.10" stroke-width="1.1"/>
<ellipse cx="421.00" cy="1012.00" rx="3.51" ry="1.65" stroke-width="1" />
</g>
<g id="p37a">
<ellipse cx="283.9" cy="862" rx="5.2" ry="6.1" transform="rotate(-38 283.9 862)" stroke-width="1.3"/>
<path d="M278.2,856.2 L279,853.5 L280.8,855.3 L282,852.8 L283.8,855 L285.6,855.2 L288.5,858.5 L287,860 L285.2,858.2 L284.3,860.5 L282.5,857.5 L279.5,857.8 Z" fill="#000" stroke-width="0.6"/>
<path d="M283.2,856.5 L287.2,864.8" stroke-width="1.5"/>
</g>
<g id="p28">
<path d="M274.8,865.2 Q266,871 255,880 Q244,890 238.5,898 Q231,910 220,920 L200.5,934" stroke-width="4.6"/>
<path d="M274.8,865.2 Q266,871 255,880 Q244,890 238.5,898 Q231,910 220,920 L200.5,934" stroke="#fff" stroke-width="2.4"/>
<path d="M276.2,867.5 Q277.5,865 275.5,863.2 Q273.6,862.5 272.5,864.5" stroke-width="1.1"/>
<ellipse cx="201.8" cy="935" rx="2.6" ry="2" transform="rotate(-35 201.8 935)" stroke-width="1.1"/>
</g>
<g id="p26" stroke-width="1.4">
<path d="M151.2,919 L151.2,922.5 Q152,927.6 159.4,927.6 Q166.8,927.6 167.6,922.5 L167.6,919"/>
<ellipse cx="159.4" cy="918.8" rx="8.2" ry="4.9"/>
<ellipse cx="159.4" cy="918.5" rx="4.2" ry="2.5"/>
</g>
<g id="p27" stroke-width="1.3">
<path d="M153.5,937.5 Q153,932 159,931.4 Q165,932 164.6,937.5"/>
<ellipse cx="159.1" cy="935.3" rx="4.5" ry="2.2"/>
<ellipse cx="159" cy="939.5" rx="7.7" ry="2.6"/>
<path d="M153.7,941.8 L153.7,956 M164.4,941.8 L164.4,955.5"/>
<ellipse cx="158.8" cy="955.2" rx="8.6" ry="4.3" stroke-width="1.5"/>
<path d="M152.5,958.5 L154,963.5 L157.5,966.2 L161,965 L162.5,961.5"/>
<path d="M164.8,951 L168,948.5 L173.5,947.8 M165.5,958 L176,952.5"/>
<ellipse cx="175.8" cy="950.7" rx="2.6" ry="3.4" transform="rotate(30 175.8 950.7)" stroke-width="1.4"/>
<path d="M171.5,948.5 L173,954.5" stroke-width="1.8"/>
</g>
<g id="p37b">
<ellipse cx="188.9" cy="944" rx="5.3" ry="6.4" transform="rotate(-38 188.9 944)" stroke-width="1.3"/>
<path d="M183.2,938 L184,935.5 L185.8,937.2 L187,935 L188.8,937 L190.6,937.2 L193.5,940.5 L192,942 L190.2,940.2 L189.3,942.5 L187.5,939.5 L184.5,939.8 Z" fill="#000" stroke-width="0.6"/>
<path d="M188.2,938.5 L192.2,946.8" stroke-width="1.5"/>
</g>

<g id="p80">
<path d="M490.6,367.5 L523.8,386.6 M546.3,400 L592.5,426.4 M605,433 L609.7,435.6" stroke-width="1.2"/>
<path d="M523.8,386.6 L546.3,400" stroke-width="1.2" stroke-dasharray="4 2.6"/>
<path d="M593.3,425.6 L599.5,421.3 L603.8,424.5 L605.4,429.5 L603.4,435.4 L597.6,437 L592.5,434.6 L592.1,430.3 Z" stroke-width="1.4" fill="#fff"/>
<path d="M599.5,421.8 L603.8,424.5 L605.4,429.5 L603.4,435.4 L597.6,437 L597.2,433 L598.6,427.5 Z" fill="#000" stroke-width="0.8"/>
<path d="M593.5,425.8 L598.6,427.5 M592.3,430.5 L597.2,433" stroke-width="1.1"/>
</g>
<path d="M421.3,925 L421.3,933.5 M470.8,640 L470.8,651.5" stroke-width="1.1" stroke-linecap="butt"/>

</g>
</svg>
</body></html>
